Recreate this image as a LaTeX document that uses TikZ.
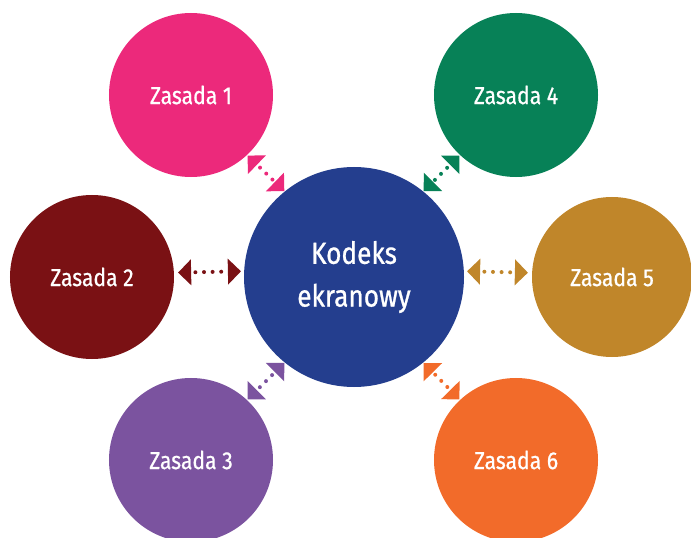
\documentclass[tikz,border=0pt]{standalone}
\usepackage{fontspec}
\setmainfont{Fira Sans}[FakeStretch=0.86,FakeBold=0.8]
\usetikzlibrary{arrows.meta}
\definecolor{cK}{RGB}{36,62,142}
\definecolor{c1}{RGB}{236,41,123}
\definecolor{c2}{RGB}{122,17,20}
\definecolor{c3}{RGB}{123,83,159}
\definecolor{c4}{RGB}{7,129,87}
\definecolor{c5}{RGB}{192,134,42}
\definecolor{c6}{RGB}{242,107,42}
\tikzset{
  pxgrid/.style={x=0.03cm,y=-0.03cm},
  bub/.style={circle,fill=#1,draw=none,inner sep=0pt,text=white,font=\fontsize{21}{22}\selectfont,align=center},
  conn/.style={draw=#1,line width=3.4pt,line cap=round,dash pattern=on 0pt off 7.34pt,dash phase=3.67pt,
     {Triangle[length=11.1pt,width=22.2pt,line width=0pt,fill=#1]}-{Triangle[length=11.1pt,width=22.2pt,line width=0pt,fill=#1]}}
}
\begin{document}
\begin{tikzpicture}[pxgrid]
\useasboundingbox (0,0) rectangle (691,538);
\clip (0,0) rectangle (691,538);
\node[bub=cK,minimum size=6.6cm,font=\fontsize{26}{36.5}\selectfont] (k) at (354,277) {Kodeks\\ekranowy};
\node[bub=c1,minimum size=4.92cm] (z1) at (191,95) {Zasada 1};
\node[bub=c2,minimum size=4.92cm] (z2) at (92,277) {Zasada 2};
\node[bub=c3,minimum size=4.92cm] (z3) at (191,460) {Zasada 3};
\node[bub=c4,minimum size=4.92cm] (z4) at (516,95) {Zasada 4};
\node[bub=c5,minimum size=4.8cm] (z5) at (612,277) {Zasada 5};
\node[bub=c6,minimum size=4.92cm] (z6) at (516,460) {Zasada 6};
\path[conn=c1,shorten <=0.6pt,shorten >=0.4pt] (z1.-47) -- (k.129);
\path[conn=c4,shorten <=0.6pt,shorten >=0.4pt] (z4.-133) -- (k.51);
\path[conn=c3,shorten <=0.6pt,shorten >=0.4pt] (z3.47) -- (k.-129);
\path[conn=c6,shorten <=0.6pt,shorten >=0.4pt] (z6.133) -- (k.-51);
\path[conn=c2,shorten <=3.4pt,shorten >=2.56pt] (z2.3) -- (k.177);
\path[conn=c5,shorten <=2.56pt,shorten >=3.4pt] (k.3) -- (z5.177);
\end{tikzpicture}
\end{document}
